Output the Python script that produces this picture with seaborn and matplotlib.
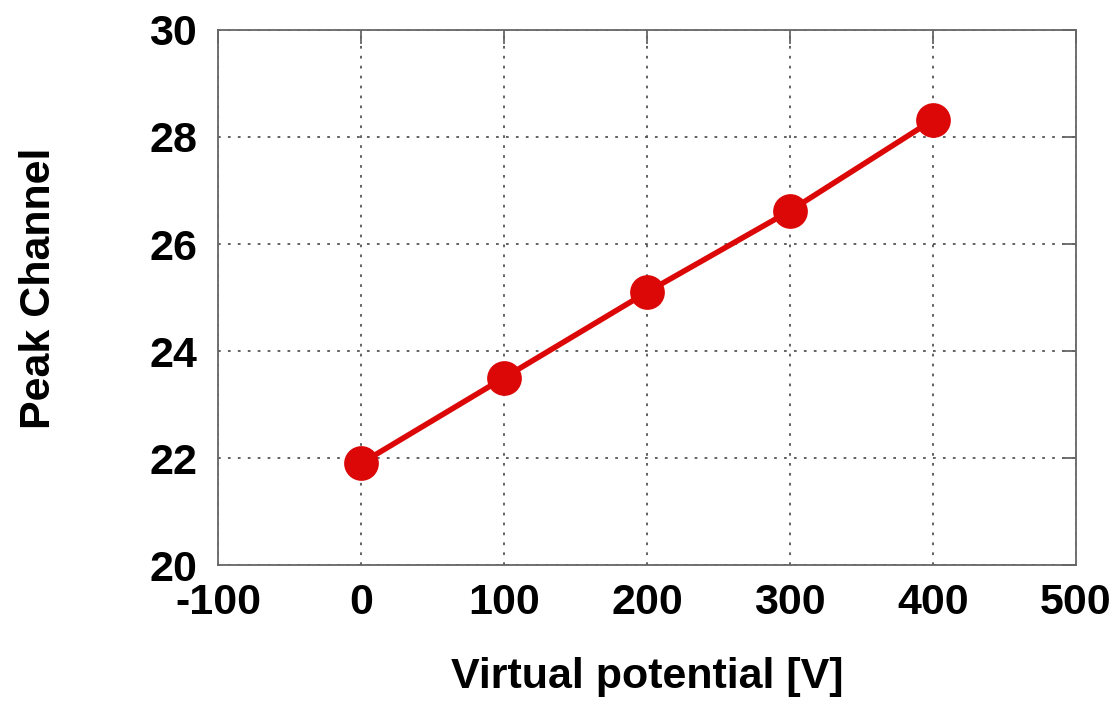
import numpy as np
import pandas as pd
import matplotlib
matplotlib.use('Agg')
import matplotlib.pyplot as plt
import seaborn as sns

# data
voltage = [0, 100, 200, 300, 400]
peak_channel = [21.9, 23.5, 25.1, 26.62, 28.32]
x_ticks = [-100, 0, 100, 200, 300, 400, 500]
y_ticks = [20, 22, 24, 26, 28, 30]

df = pd.DataFrame({'voltage': voltage, 'peak': peak_channel})

sns.set_style('white')
plt.rcParams['font.family'] = ['Liberation Sans', 'DejaVu Sans']
plt.rcParams['font.weight'] = 'bold'
plt.rcParams['axes.unicode_minus'] = False
plt.rcParams['text.color'] = 'black'
plt.rcParams['xtick.labelcolor'] = 'black'
plt.rcParams['ytick.labelcolor'] = 'black'
plt.rcParams['axes.labelcolor'] = 'black'

fig = plt.figure(figsize=(11.18, 7.04), dpi=100)
ax = fig.add_axes([0.195, 0.1974, 0.7674, 0.76])

sns.lineplot(data=df, x='voltage', y='peak', ax=ax, color='#dc0707',
             linewidth=4, marker='o', markersize=25, markeredgewidth=0)

ax.set_xlim(-100, 500)
ax.set_ylim(20, 30)
ax.set_xticks(x_ticks)
ax.set_yticks(y_ticks)
ax.grid(True, color='#555555', linestyle=(0, (1.5, 4)), linewidth=1.3)
ax.tick_params(direction='in', length=10, width=1.3, color='#666666',
               labelsize=31, top=True, right=True)
ax.tick_params(axis='x', pad=13)
ax.tick_params(axis='y', pad=15)
for lab in ax.get_xticklabels() + ax.get_yticklabels():
    lab.set_fontweight('bold')
for sp in ax.spines.values():
    sp.set_color('#666666')
    sp.set_linewidth(1.3)

ax.set_xlabel('Virtual potential [V]', fontsize=31, fontweight='bold')
ax.set_ylabel('Peak Channel', fontsize=31, fontweight='bold')
ax.xaxis.set_label_coords(0.5, -0.172)
ax.yaxis.set_label_coords(-0.185, 0.518)

fig.savefig('out.png', dpi=100)
